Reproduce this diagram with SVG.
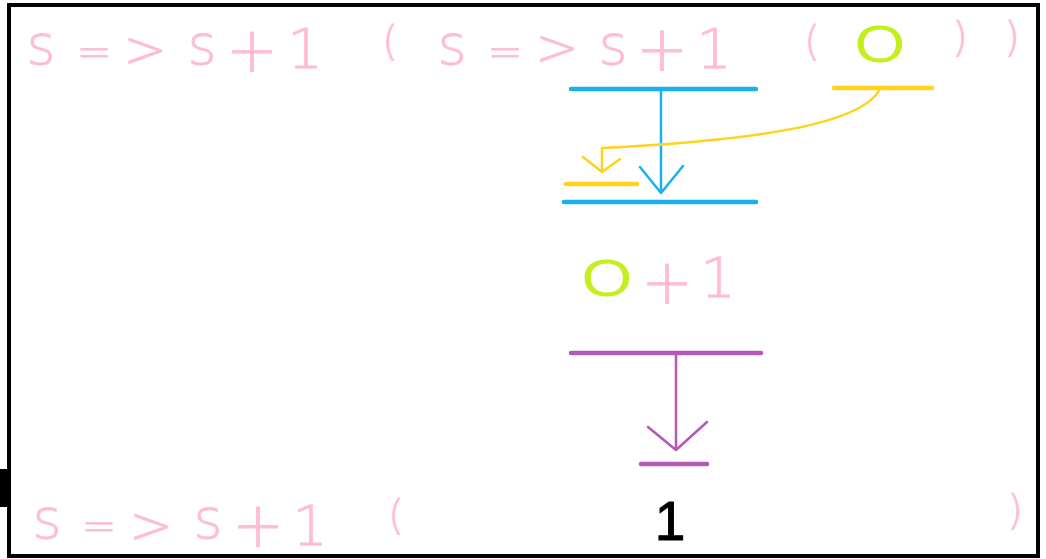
<svg xmlns="http://www.w3.org/2000/svg" width="1046" height="559" viewBox="0 0 1046 559">
<style>
.pk,.pl,.pe,.pg,.pr{fill:#ffbcd6;stroke:#ffbcd6;stroke-width:0.8;font-family:"DejaVu Sans","Liberation Sans",sans-serif;font-weight:200;text-anchor:middle}
.pk{font-size:56px}
.pl{font-size:62px}
.pe{font-size:42px}
.pg{font-size:52px}
.pr{font-size:40px}
.gr{fill:#c4ee1c;font-family:"Liberation Sans",Arial,sans-serif;font-size:51px;text-anchor:middle}
.bar{stroke-width:4.5;stroke-linecap:round;fill:none}
.con{stroke-width:2.5;fill:none;stroke-linecap:round;stroke-linejoin:round}
.blue{stroke:#1ab0ee}
.yel{stroke:#ffd21c}
.pur{stroke:#b458b4}
</style>
<rect x="0" y="0" width="1046" height="559" fill="#ffffff"/>
<rect id="frame" x="9" y="5" width="1029" height="551" fill="none" stroke="#000" stroke-width="4"/>
<rect id="tab" x="0" y="469" width="8" height="38" fill="#000"/>
<g id="top-expr">
<text class="pk" x="41" y="64">s</text>
<text class="pe" x="94" y="66">=</text>
<text class="pg" x="145" y="67">&gt;</text>
<text class="pk" x="202" y="64">s</text>
<text class="pl" x="252" y="71">+</text>
<text class="pk" x="305" y="68">1</text>
<text class="pr" x="390" y="55">(</text>
<text class="pk" x="452" y="64">s</text>
<text class="pe" x="505" y="66">=</text>
<text class="pg" x="557" y="65">&gt;</text>
<text class="pk" x="613" y="64">s</text>
<text class="pl" x="662" y="70">+</text>
<text class="pk" x="714" y="68">1</text>
<text class="pr" x="812" y="55">(</text>
<text class="gr" transform="translate(880,62) scale(1.28,1)">O</text>
<text class="pr" x="960" y="51">)</text>
<text class="pr" x="1012" y="51">)</text>
</g>
<g id="mid-expr">
<text class="gr" transform="translate(607,296) scale(1.28,1)">O</text>
<text class="pl" x="667" y="303">+</text>
<text class="pk" x="718" y="297">1</text>
</g>
<g id="bottom-expr">
<text class="pk" x="47" y="538">s</text>
<text class="pe" x="99" y="540">=</text>
<text class="pg" x="151" y="543">&gt;</text>
<text class="pk" x="208" y="538">s</text>
<text class="pl" x="258" y="546">+</text>
<text class="pk" x="310" y="545">1</text>
<text class="pr" x="396" y="529">(</text>
<text x="670" y="540" font-family="'Liberation Sans',Arial,sans-serif" font-size="55" fill="#000" stroke="#000" stroke-width="1" text-anchor="middle">1</text>
<text class="pr" x="1015" y="524">)</text>
</g>
<g id="bars">
<line id="blue-top" class="bar blue" x1="571" y1="89" x2="756" y2="89"/>
<line id="blue-bottom" class="bar blue" x1="564" y1="202" x2="756" y2="202"/>
<line id="yellow-top" class="bar yel" x1="834" y1="88" x2="932" y2="88"/>
<line id="yellow-bottom" class="bar yel" x1="566" y1="184" x2="637" y2="184"/>
<line id="purple-top" class="bar pur" x1="571" y1="353" x2="761" y2="353"/>
<line id="purple-bottom" class="bar pur" x1="641" y1="464" x2="707" y2="464"/>
</g>
<g id="connectors">
<path class="con blue" d="M661,89 V193 M640,167 L661,193 L683,166"/>
<path class="con yel" d="M880,89 C862,124 760,140 602,148 V172 M583,157 L602,172 L620,159" stroke-width="2"/>
<path class="con pur" d="M676,353 V450 M648,427 L676,450 L707,422"/>
</g>
</svg>
